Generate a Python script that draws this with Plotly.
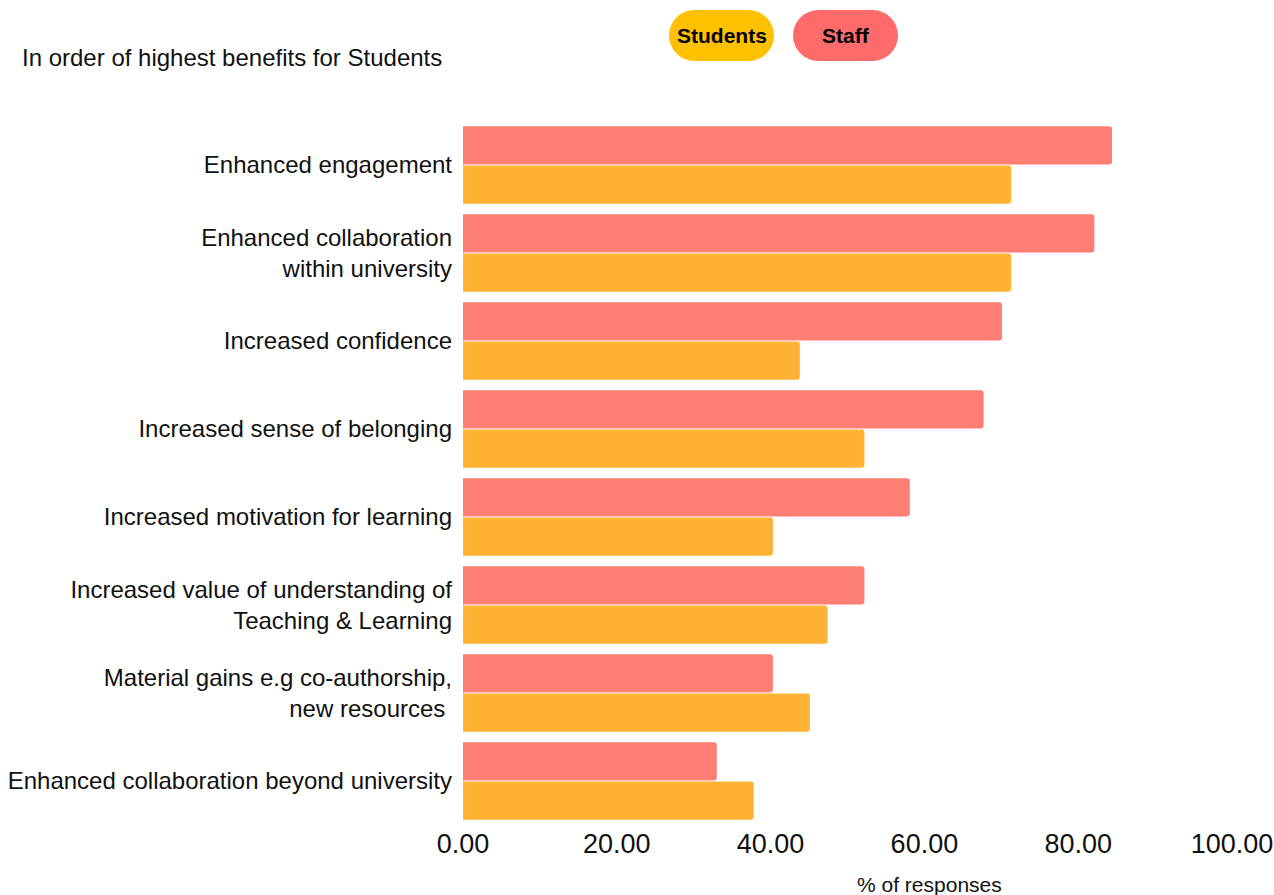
import math
import plotly.graph_objects as go

categories = [
    "Enhanced engagement",
    "Enhanced collaboration<br>within university",
    "Increased confidence",
    "Increased sense of belonging",
    "Increased motivation for learning",
    "Increased value of understanding of<br>Teaching & Learning",
    "Material gains e.g co-authorship,<br>new resources ",
    "Enhanced collaboration beyond university",
]
staff = [84.4, 82.1, 70.1, 67.7, 58.1, 52.2, 40.3, 33.0]
students = [71.3, 71.3, 43.8, 52.2, 40.3, 47.4, 45.1, 37.8]
x_ticks = [0, 20, 40, 60, 80, 100]
x_tick_labels = ["0.00", "20.00", "40.00", "60.00", "80.00", "100.00"]

W, H = 1274, 895
ML, MR, MT, MB = 463, 42, 121, 70
PW, PH = W - ML - MR, H - MT - MB

fig = go.Figure()
fig.add_trace(go.Bar(y=categories, x=staff, orientation="h", name="Staff",
                     marker=dict(color="#FF7F74", line=dict(width=0)), showlegend=False))
fig.add_trace(go.Bar(y=categories, x=students, orientation="h", name="Students",
                     marker=dict(color="#FFB236", line=dict(width=0)), showlegend=False))


def pill(x0, y0, x1, y1, n=16):
    r = (y1 - y0) / 2
    pts = []
    cx, cy = x1 - r, y0 + r
    for i in range(n + 1):
        a = -math.pi / 2 + math.pi * i / n
        pts.append((cx + r * math.cos(a), cy + r * math.sin(a)))
    cx = x0 + r
    for i in range(n + 1):
        a = math.pi / 2 + math.pi * i / n
        pts.append((cx + r * math.cos(a), cy + r * math.sin(a)))
    conv = [((px - ML) / PW, (H - MB - py) / PH) for px, py in pts]
    return "M " + " L ".join(f"{a:.5f},{b:.5f}" for a, b in conv) + " Z"


def px_x(p):
    return (p - ML) / PW


def px_y(p):
    return (H - MB - p) / PH


shapes = []
annotations = []
for (x0, x1, col, txt) in [(669, 774, "#FFC000", "Students"), (793, 898, "#FF6B6B", "Staff")]:
    shapes.append(dict(type="path", xref="paper", yref="paper", path=pill(x0, 10, x1, 61),
                       fillcolor=col, line=dict(width=0)))
    annotations.append(dict(xref="paper", yref="paper", x=px_x((x0 + x1) / 2),
                            y=px_y(35), xanchor="center", yanchor="middle",
                            text=f"<b>{txt}</b>", showarrow=False,
                            font=dict(size=21, color="black", family="Liberation Sans, Arial")))

annotations.append(dict(xref="paper", yref="paper", x=px_x(20), y=px_y(58),
                        xanchor="left", yanchor="middle",
                        text="In order of highest benefits for Students",
                        showarrow=False, font=dict(size=24, color="#111", family="Liberation Sans, Arial")))
annotations.append(dict(xref="paper", yref="paper", x=px_x(929), y=px_y(884),
                        xanchor="center", yanchor="middle",
                        text="% of responses", showarrow=False,
                        font=dict(size=21, color="#111", family="Liberation Sans Narrow, Liberation Sans, Arial")))

fig.update_layout(
    width=W, height=H,
    margin=dict(l=ML, r=MR, t=MT, b=MB, autoexpand=False),
    barmode="group", bargap=0.11, bargroupgap=0.025, barcornerradius=3,
    plot_bgcolor="white", paper_bgcolor="white",
    shapes=shapes, annotations=annotations,
    font=dict(family="Liberation Sans, Arial", color="#111"),
)
fig.update_xaxes(range=[0, 100], tickvals=x_ticks, ticktext=x_tick_labels, showgrid=False,
                 zeroline=False, showline=False, ticks="", automargin=False,
                 ticklabeloverflow="allow",
                 tickfont=dict(size=27, family="Liberation Sans Narrow, Liberation Sans, Arial", color="#111"))
fig.update_yaxes(autorange="reversed", showgrid=False, ticks="", ticklabelstandoff=10,
                 automargin=False, ticklabeloverflow="allow",
                 tickfont=dict(size=24, family="Liberation Sans, Arial", color="#111"))

fig.write_html("out.html", config={"displayModeBar": False},
               post_script="document.body.style.margin='0';document.body.style.overflow='hidden';")
